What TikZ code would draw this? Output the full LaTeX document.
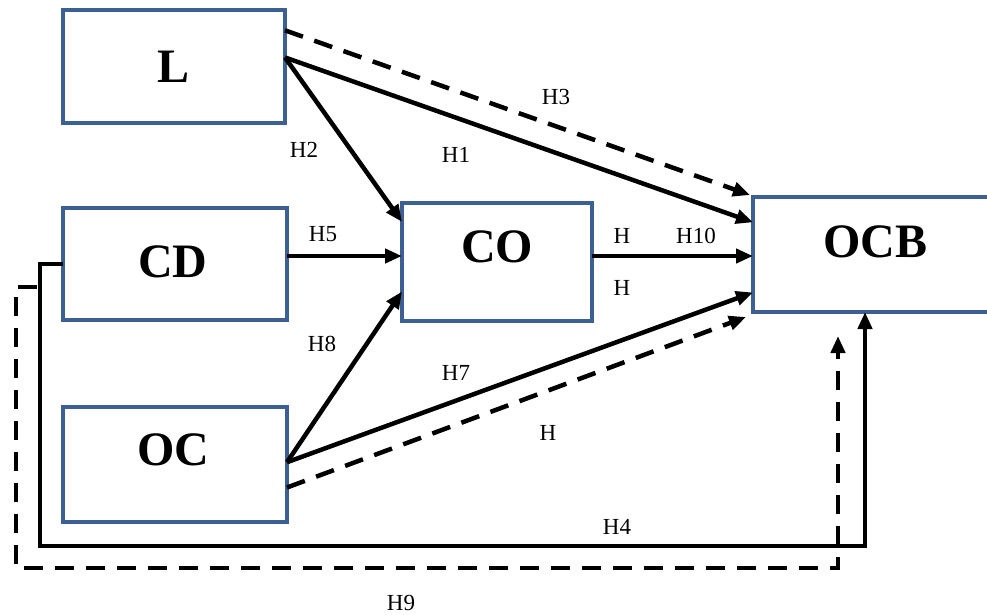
\documentclass[tikz,border=0pt]{standalone}
\usepackage{fontspec}
\setmainfont{Liberation Serif}
\usetikzlibrary{arrows.meta,calc}
\definecolor{boxblue}{RGB}{60,96,145}
\begin{document}
\begin{tikzpicture}[x=1pt,y=-1pt,
  box/.style={draw=boxblue,line width=4pt,fill=white,inner sep=0pt,outer sep=0pt},
  big/.style={font=\fontsize{48}{50}\selectfont\bfseries,inner sep=0pt},
  lab/.style={font=\fontsize{23}{25}\selectfont,inner sep=0pt},
  conn/.style={line width=4.5pt,-{Triangle[length=17pt,width=14pt]}},
  dashln/.style={line width=4.5pt,dash pattern=on 19pt off 12pt}]
\useasboundingbox (0,0) rectangle (987,614);
% boxes
\node[box,minimum width=222pt,minimum height=113pt] (L) at (174,66.5) {};
\node[box,minimum width=224pt,minimum height=112pt] (CD) at (175,264) {};
\node[box,minimum width=224pt,minimum height=115pt] (OC) at (175,464.5) {};
\node[box,minimum width=190pt,minimum height=118pt] (CO) at (497,262) {};
\node[box,minimum width=247pt,minimum height=115pt] (OCB) at (876.5,254.5) {};
% box texts
\node[big] (tL) at (174,67) {L};
\node[big] (tCD) at (173,262) {CD};
\node[big] (tOC) at (173,450) {OC};
\node[big] (tCO) at (497,247) {CO};
\node[big] (tOCB) at (875,242) {OCB};
% connectors
\draw[conn,dashln] ($(L.north east)!0.18!(L.south east)$) -- ($(OCB.north west)+(-3,-2)$);
\draw[conn] ($(L.north east)!0.42!(L.south east)$) -- ($(OCB.north west)!0.22!(OCB.south west)$);
\draw[conn] ($(L.north east)!0.42!(L.south east)$) -- ($(CO.north west)!0.16!(CO.south west)$);
\draw[conn] ($(CD.east)+(0,-8)$) -- ($(CO.west)+(0,-6)$);
\draw[conn] ($(CO.east)+(0,-6)$) -- ($(OCB.west)+(0,1.5)$);
\draw[conn] ($(OC.north east)!0.48!(OC.south east)$) -- ($(CO.north west)!0.75!(CO.south west)$);
\draw[conn] ($(OC.north east)!0.48!(OC.south east)$) -- ($(OCB.north west)!0.83!(OCB.south west)$);
\draw[conn,dashln] ($(OC.north east)!0.70!(OC.south east)$) -- ($(OCB.south west)+(-7,5)$);
\draw[conn] (CD.west) -- (40,264) -- (40,546) -| ($(OCB.south west)+(112,0)$);
\coordinate (dstart) at (37,287);
\draw[conn,dashln] (dstart) -- (16,287) -- (16,568) -| ($(OCB.south west)+(85,24)$);
% labels
\node[lab] (h3) at (556,97) {H3};
\node[lab] (h1) at (456,155) {H1};
\node[lab] (h2) at (304,150) {H2};
\node[lab] (h5) at (323,234) {H5};
\node[lab] (ha) at (622,236) {H};
\node[lab] (h10) at (696,236) {H10};
\node[lab] (hb) at (622,288) {H};
\node[lab] (h8) at (322,344) {H8};
\node[lab] (h7) at (456,373) {H7};
\node[lab] (hc) at (548,433) {H};
\node[lab] (h4) at (617,527) {H4};
\node[lab] (h9) at (401,603) {H9};
\end{tikzpicture}
\end{document}
